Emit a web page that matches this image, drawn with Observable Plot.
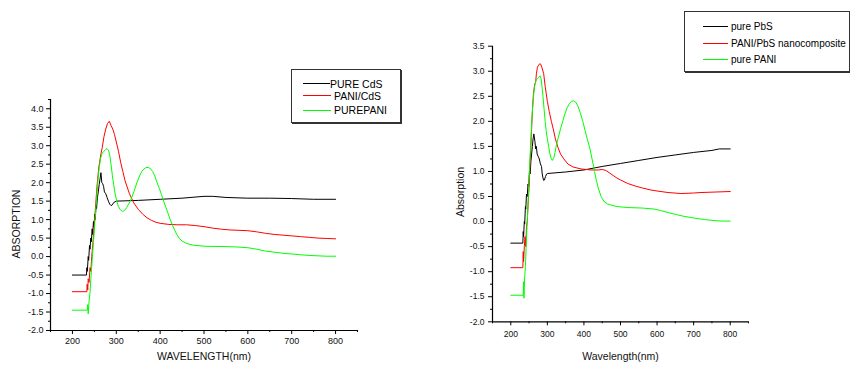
<!DOCTYPE html>
<html>
<head>
<meta charset="utf-8">
<script src="https://cdn.jsdelivr.net/npm/d3@7"></script>
<script src="https://cdn.jsdelivr.net/npm/@observablehq/plot@0.6"></script>
<style>
  html, body { margin: 0; padding: 0; background: #fff; overflow: hidden; }
  body { width: 850px; height: 366px; position: relative; font-family: "Liberation Sans", Arial, sans-serif; }
  .panel { position: absolute; top: 0; }
  .legend { position: absolute; border: 1px solid #333; box-shadow: 1px 1px 0 #333; background: #fff; box-sizing: border-box; }
  .row { position: absolute; display: flex; align-items: center; white-space: nowrap; color: #000; }
  .row .ln { display: inline-block; height: 0; border-top: 1px solid; }
</style>
</head>
<body>
<div id="left" class="panel" style="left:0"></div>
<div id="right" class="panel" style="left:425px"></div>
<div id="legendLeft" class="legend" style="left:291px;top:69px;width:110px;height:54px"></div>
<div id="legendRight" class="legend" style="left:684px;top:11px;width:166px;height:61px"></div>
<script>
// ---------- Tick labels ----------
const xMajorTicks = [200, 300, 400, 500, 600, 700, 800];
const xMinorTicks = [150, 250, 350, 450, 550, 650, 750, 850];
const yLeftMajorTicks = [-2.0, -1.5, -1.0, -0.5, 0.0, 0.5, 1.0, 1.5, 2.0, 2.5, 3.0, 3.5, 4.0];
const yLeftMinorTicks = [-1.75, -1.25, -0.75, -0.25, 0.25, 0.75, 1.25, 1.75, 2.25, 2.75, 3.25, 3.75, 4.25];
const yRightMajorTicks = [-2.0, -1.5, -1.0, -0.5, 0.0, 0.5, 1.0, 1.5, 2.0, 2.5, 3.0, 3.5];
const yRightMinorTicks = [-1.75, -1.25, -0.75, -0.25, 0.25, 0.75, 1.25, 1.75, 2.25, 2.75, 3.25];

// ---------- Series names ----------
const leftSeriesNames = ["PURE CdS", "PANI/CdS", "PUREPANI"];
const rightSeriesNames = ["pure PbS", "PANI/PbS nanocomposite", "pure PANI"];
const seriesColors = ["#000000", "#ff0000", "#00ff00"];

// ---------- Left panel data [wavelength nm, absorption] ----------
const pureCdS = [
  [200,-0.5],[232,-0.5],[233,-0.3],[234,-0.4],[236,0.0],[237,-0.1],[239,0.3],[240,0.2],[242,0.5],[243,0.4],
  [245,0.75],[246,0.6],[248,0.95],[249,0.8],[251,1.15],[252,1.0],[254,1.4],[255,1.3],[257,1.6],[259,1.75],
  [261,1.95],[263,2.1],[265,2.27],[267,2.0],[269,1.97],[271,1.9],[273,1.75],[276,1.7],[279,1.6],[282,1.5],
  [285,1.42],[288,1.38],[291,1.4],[294,1.46],[297,1.48],[300,1.5],[350,1.52],[400,1.55],[450,1.58],
  [500,1.63],[520,1.63],[550,1.6],[600,1.58],[650,1.58],[700,1.57],[750,1.55],[800,1.55]
];
const paniCdS = [
  [200,-0.95],[233,-0.95],[233.5,-0.75],[235,-0.9],[236,-0.6],[238,-0.7],[240,-0.3],[242,-0.4],[244,0.0],
  [247,0.4],[250,0.9],[253,1.4],[256,1.9],[260,2.4],[265,2.78],[268,2.95],[272,3.25],[276,3.45],[280,3.6],
  [284,3.66],[288,3.55],[292,3.45],[296,3.3],[300,3.1],[305,2.85],[310,2.55],[315,2.3],[320,2.05],[330,1.7],
  [340,1.45],[350,1.28],[360,1.15],[370,1.05],[380,0.98],[390,0.93],[400,0.9],[420,0.87],[440,0.86],
  [460,0.86],[480,0.84],[500,0.81],[520,0.77],[540,0.74],[560,0.72],[580,0.71],[600,0.7],[620,0.67],
  [640,0.63],[660,0.6],[680,0.58],[700,0.56],[720,0.54],[740,0.52],[760,0.5],[780,0.49],[800,0.48]
];
const purePaniLeft = [
  [200,-1.45],[234,-1.45],[235,-1.3],[236,-1.55],[238,-1.2],[240,-1.0],[242,-0.6],[245,-0.1],[248,0.4],
  [251,0.9],[254,1.4],[257,1.9],[260,2.3],[264,2.65],[268,2.8],[272,2.85],[276,2.9],[279,2.92],[282,2.88],
  [285,2.75],[288,2.5],[291,2.2],[294,1.95],[297,1.72],[301,1.5],[305,1.35],[309,1.27],[314,1.22],
  [319,1.25],[324,1.33],[328,1.42],[332,1.5],[340,1.75],[347,2.0],[353,2.18],[358,2.3],[363,2.37],
  [368,2.41],[373,2.41],[378,2.38],[383,2.3],[388,2.18],[393,2.0],[398,1.85],[403,1.68],[408,1.5],
  [413,1.33],[418,1.17],[423,1.0],[428,0.85],[433,0.72],[438,0.6],[443,0.5],[450,0.42],[461,0.35],
  [475,0.31],[500,0.28],[550,0.27],[575,0.26],[600,0.24],[620,0.2],[640,0.15],[660,0.12],[680,0.09],
  [700,0.07],[720,0.05],[740,0.03],[760,0.02],[780,0.01],[800,0.01]
];

// ---------- Right panel data ----------
const purePbS = [
  [200,-0.43],[233,-0.43],[234,-0.2],[235,-0.3],[237,0.0],[238,-0.05],[240,0.3],[241,0.25],[243,0.55],
  [245,0.5],[247,0.75],[249,0.7],[251,1.0],[253,0.95],[255,1.2],[257,1.35],[259,1.5],[261,1.65],[263,1.75],
  [266,1.6],[268,1.45],[270,1.5],[272,1.35],[275,1.3],[278,1.25],[281,1.15],[284,1.1],[286,0.95],
  [288,0.87],[290,0.82],[292,0.83],[295,0.9],[298,0.95],[301,0.96],[350,0.99],[400,1.03],[450,1.1],
  [500,1.16],[550,1.22],[600,1.28],[650,1.33],[700,1.38],[750,1.42],[770,1.45],[800,1.45]
];
const paniPbS = [
  [200,-0.92],[233,-0.92],[234,-0.6],[235,-0.8],[237,-0.5],[239,-0.3],[241,-0.5],[243,-0.1],[245,0.0],
  [247,0.3],[250,0.7],[253,1.2],[256,1.7],[259,2.2],[262,2.55],[265.5,2.75],[268,2.78],[270,2.95],
  [273,3.08],[276,3.12],[279,3.15],[282,3.14],[285,3.08],[290,2.95],[294,2.7],[297,2.55],[300,2.4],
  [305,2.2],[311,2.0],[316,1.85],[322,1.65],[329,1.48],[336,1.35],[345,1.25],[356,1.15],[370,1.09],
  [392,1.05],[420,1.03],[440,1.03],[450,1.04],[460,1.02],[470,0.97],[480,0.92],[490,0.87],[500,0.83],
  [520,0.76],[540,0.71],[560,0.67],[583,0.63],[600,0.61],[630,0.58],[665,0.56],[700,0.57],[720,0.58],
  [760,0.59],[800,0.6]
];
const purePaniRight = [
  [200,-1.47],[234,-1.47],[235,-1.2],[236,-1.53],[238,-1.1],[240,-0.9],[242,-0.5],[245,0.0],[248,0.5],
  [251,1.0],[254,1.5],[257,1.95],[260,2.3],[264,2.65],[268,2.8],[272,2.85],[276,2.88],[280,2.91],
  [283,2.85],[286,2.65],[288,2.5],[291,2.25],[294,2.0],[297,1.8],[300,1.65],[303.5,1.5],[307,1.35],
  [310,1.27],[313.5,1.22],[318,1.28],[321,1.38],[324,1.5],[330,1.68],[336,1.85],[342,2.0],[348,2.15],
  [354,2.27],[360,2.35],[366,2.4],[372,2.41],[378,2.38],[384,2.3],[390,2.17],[397,2.0],[403,1.82],
  [409,1.65],[415,1.5],[420,1.33],[425,1.15],[429,1.0],[434,0.82],[440,0.65],[447,0.5],[455,0.4],
  [465,0.35],[474,0.33],[490,0.3],[520,0.28],[560,0.27],[592,0.25],[610,0.22],[630,0.18],[647,0.15],
  [670,0.11],[701,0.07],[730,0.04],[756,0.02],[780,0.01],[800,0.01]
];

const fmt = d => d.toFixed(1);

function panel(opts) {
  const {series, yDomain, yMajor, yMinor, margins, xLabel, yLabel, tickFont, xPad, yPad, yLabelDx, yLabelDy, xLabelDy} = opts;
  return Plot.plot({
    width: 425, height: 366,
    marginLeft: margins[0], marginRight: margins[1], marginTop: margins[2], marginBottom: margins[3],
    x: {domain: [150, 850], label: null},
    y: {domain: yDomain, label: null},
    style: {fontFamily: '"Liberation Sans", Arial, sans-serif', fontSize: tickFont, color: "#111", background: "transparent", overflow: "visible"},
    marks: [
      ...series.map((s, i) => Plot.line(s, {x: d => d[0], y: d => d[1], stroke: seriesColors[i], strokeWidth: 1})),
      Plot.ruleY([yDomain[0]], {stroke: "#000", strokeWidth: 1.2}),
      Plot.ruleX([150], {stroke: "#000", strokeWidth: 1.2}),
      Plot.axisX({ticks: xMajorTicks, tickSize: 4, tickPadding: xPad, tickFormat: d => String(d), label: null, stroke: "#000"}),
      Plot.axisX({ticks: xMinorTicks, tickSize: 2, tickFormat: () => "", label: null, stroke: "#000"}),
      Plot.axisY({ticks: yMajor, tickSize: 4, tickPadding: yPad, tickFormat: fmt, label: null, stroke: "#000"}),
      Plot.axisY({ticks: yMinor, tickSize: 2, tickFormat: () => "", label: null, stroke: "#000"}),
      Plot.text([xLabel], {text: d => d, frameAnchor: "bottom", textAnchor: "middle", dy: xLabelDy, fontSize: 10.5, lineAnchor: "middle", fill: "#111"}),
      Plot.text([yLabel], {text: d => d, frameAnchor: "left", textAnchor: "middle", lineAnchor: "middle", dx: yLabelDx, dy: yLabelDy, rotate: -90, fontSize: 10.5, fill: "#111"})
    ]
  });
}

document.getElementById("left").append(panel({
  series: [pureCdS, paniCdS, purePaniLeft],
  yDomain: [-2, 4.25], yMajor: yLeftMajorTicks, yMinor: yLeftMinorTicks,
  margins: [50, 68, 99, 36], xLabel: "WAVELENGTH(nm)", yLabel: "ABSORPTION",
  tickFont: "9px", xPad: 3, yPad: 3, yLabelDx: -34, yLabelDy: 9, xLabelDy: 26
}));
document.getElementById("right").append(panel({
  series: [purePbS, paniPbS, purePaniRight],
  yDomain: [-2, 3.5], yMajor: yRightMajorTicks, yMinor: yRightMinorTicks,
  margins: [67, 102, 45.7, 44.7], xLabel: "Wavelength(nm)", yLabel: "Absorption",
  tickFont: "8.5px", xPad: 5, yPad: 4, yLabelDx: -31.5, yLabelDy: 8, xLabelDy: 34.5
}));

// ---------- Legends (HTML) ----------
function legend(el, names, rows) {
  names.forEach((name, i) => {
    const r = rows[i];
    const row = document.createElement("div");
    row.className = "row";
    row.style.left = r.left + "px";
    row.style.top = (r.cy - 7) + "px";
    row.style.height = "14px";
    row.style.fontSize = r.fs + "px";
    const ln = document.createElement("span");
    ln.className = "ln";
    ln.style.width = r.len + "px";
    ln.style.borderTopColor = seriesColors[i];
    ln.style.marginRight = r.gap + "px";
    const t = document.createElement("span");
    t.textContent = name;
    row.append(ln, t);
    el.append(row);
  });
}
legend(document.getElementById("legendLeft"), leftSeriesNames, [
  {left: 11, cy: 13.5, len: 27, gap: 0, fs: 10.5},
  {left: 11, cy: 25.5, len: 28, gap: 3, fs: 10.5},
  {left: 11, cy: 40, len: 28, gap: 3, fs: 10.5}
]);
legend(document.getElementById("legendRight"), rightSeriesNames, [
  {left: 18, cy: 14, len: 25, gap: 3, fs: 10},
  {left: 18, cy: 31, len: 25, gap: 3, fs: 10},
  {left: 18, cy: 47.5, len: 25, gap: 3, fs: 10}
]);
</script>
</body>
</html>
